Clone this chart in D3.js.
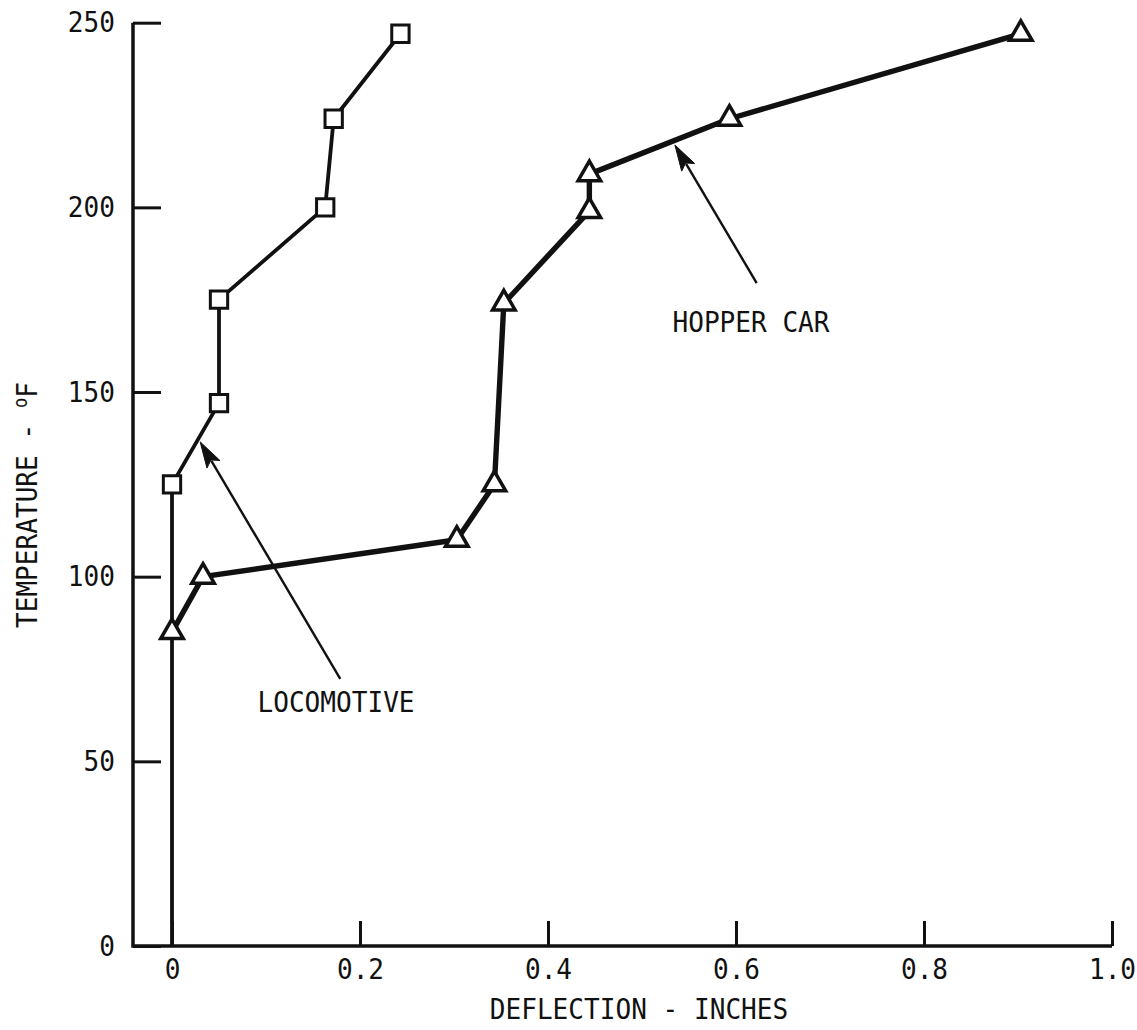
<!DOCTYPE html>
<html>
<head>
<meta charset="utf-8">
<script src="https://cdn.jsdelivr.net/npm/d3@7"></script>
<style>
  html, body { margin: 0; padding: 0; background: #fff; }
  svg { display: block; }
  text { font-family: "DejaVu Sans Mono", monospace; fill: #111; }
</style>
</head>
<body>
<svg id="chart" width="1137" height="1030"></svg>
<script>
// Deflection (inches) vs temperature (°F)
const locoDeflection = [0, 0, 0.05, 0.05, 0.163, 0.172, 0.243];
const locoTemperature = [0, 125, 147, 175, 200, 224, 247];

const hopperDeflection = [0, 0.033, 0.303, 0.343, 0.353, 0.444, 0.444, 0.593, 0.903];
const hopperTemperature = [85, 100, 110, 125, 174, 199, 209, 224, 247];

const xTickValues = [0, 0.2, 0.4, 0.6, 0.8, 1.0];
const xTickLabels = ["0", "0.2", "0.4", "0.6", "0.8", "1.0"];
const yTickValues = [0, 50, 100, 150, 200, 250];
const yTickLabels = ["0", "50", "100", "150", "200", "250"];

const xTitle = "DEFLECTION - INCHES";
const yTitle = "TEMPERATURE - ";

const svg = d3.select("#chart");
const ink = "#111";
const fontSize = 29;
const squeeze = 0.9;   // narrow lettering

const x = d3.scaleLinear().domain([0, 1]).range([172, 1112]);
const y = d3.scaleLinear().domain([0, 250]).range([946, 22.7]);
const axisLeftX = x(-0.0415);

// Axes
const xAxis = d3.axisBottom(x)
  .tickValues(xTickValues)
  .tickFormat((d, i) => xTickLabels[i])
  .tickSize(-25)
  .tickPadding(12);
const gx = svg.append("g").attr("transform", `translate(0,${y(0)})`).call(xAxis);

const yAxis = d3.axisLeft(y)
  .tickValues(yTickValues)
  .tickFormat((d, i) => yTickLabels[i])
  .tickSize(-28)
  .tickPadding(20);
const gy = svg.append("g").attr("transform", `translate(${axisLeftX},0)`).call(yAxis);

[gx, gy].forEach(g => {
  g.select(".domain").remove();
  g.selectAll(".tick line").attr("stroke", ink).attr("stroke-width", 3);
  g.selectAll(".tick text")
    .attr("fill", ink)
    .attr("transform", `scale(${squeeze},1)`)
    .style("font-size", fontSize + "px")
    .style("font-family", '"DejaVu Sans Mono", monospace');
});

// Axis lines
svg.append("path")
  .attr("d", `M${axisLeftX},${y(250)}V${y(0)}H${x(1)}`)
  .attr("fill", "none")
  .attr("stroke", ink)
  .attr("stroke-width", 3.5)
  .attr("stroke-linejoin", "miter");

// Axis titles
svg.append("text")
  .attr("transform", `translate(${x(0.5) - 3},1019) scale(${squeeze},1)`)
  .attr("text-anchor", "middle")
  .style("font-size", fontSize + "px")
  .text(xTitle);

const yt = svg.append("text")
  .attr("transform", `translate(37,628) rotate(-90) scale(${squeeze},1)`)
  .attr("text-anchor", "start")
  .style("font-size", fontSize + "px");
yt.append("tspan").text(yTitle);
yt.append("tspan").attr("dy", -10).style("font-size", "19px").text("o");
yt.append("tspan").attr("dy", 10).text("F");

// Series
const line = d3.line().x(d => x(d[0])).y(d => y(d[1]));
const loco = locoDeflection.map((d, i) => [d, locoTemperature[i]]);
const hopper = hopperDeflection.map((d, i) => [d, hopperTemperature[i]]);

svg.append("path")
  .datum(loco)
  .attr("d", line)
  .attr("fill", "none")
  .attr("stroke", ink)
  .attr("stroke-width", 3.8)
  .attr("stroke-linejoin", "round");

svg.append("path")
  .datum(hopper)
  .attr("d", line)
  .attr("fill", "none")
  .attr("stroke", ink)
  .attr("stroke-width", 5.4)
  .attr("stroke-linejoin", "round");

// Markers (the origin point of the locomotive line carries no marker)
svg.append("g").selectAll("path")
  .data(loco.slice(1))
  .join("path")
  .attr("transform", d => `translate(${x(d[0])},${y(d[1])})`)
  .attr("d", d3.symbol(d3.symbolSquare, 300))
  .attr("fill", "#fff")
  .attr("stroke", ink)
  .attr("stroke-width", 3);

svg.append("g").selectAll("path")
  .data(hopper)
  .join("path")
  .attr("transform", d => `translate(${x(d[0])},${y(d[1])})`)
  .attr("d", d3.symbol(d3.symbolTriangle, 220))
  .attr("fill", "#fff")
  .attr("stroke", ink)
  .attr("stroke-width", 3.5)
  .attr("stroke-linejoin", "miter");

// Callouts: label, arrow tail and arrow tip in data coordinates
const callouts = [
  { text: "LOCOMOTIVE", tx: 336, ty: 712, from: [0.179, 72.3], to: [0.030, 136.5] },
  { text: "HOPPER CAR", tx: 751, ty: 332, from: [0.622, 179.5], to: [0.535, 216.9] }
];

callouts.forEach(c => {
  const x0 = x(c.from[0]), y0 = y(c.from[1]);
  const x1 = x(c.to[0]), y1 = y(c.to[1]);
  const ang = Math.atan2(y1 - y0, x1 - x0);
  const headLen = 26, headHalf = 7.5;
  const bx = x1 - headLen * Math.cos(ang), by = y1 - headLen * Math.sin(ang);
  const nx = -Math.sin(ang), ny = Math.cos(ang);

  svg.append("line")
    .attr("x1", x0).attr("y1", y0)
    .attr("x2", bx + 4 * Math.cos(ang)).attr("y2", by + 4 * Math.sin(ang))
    .attr("stroke", ink)
    .attr("stroke-width", 2.4);

  svg.append("path")
    .attr("d", `M${x1},${y1}L${bx + nx * headHalf},${by + ny * headHalf}L${bx + 5 * Math.cos(ang)},${by + 5 * Math.sin(ang)}L${bx - nx * headHalf},${by - ny * headHalf}Z`)
    .attr("fill", ink)
    .attr("stroke", ink)
    .attr("stroke-width", 1);

  svg.append("text")
    .attr("transform", `translate(${c.tx},${c.ty}) scale(${squeeze},1)`)
    .attr("text-anchor", "middle")
    .style("font-size", fontSize + "px")
    .text(c.text);
});
</script>
</body>
</html>
